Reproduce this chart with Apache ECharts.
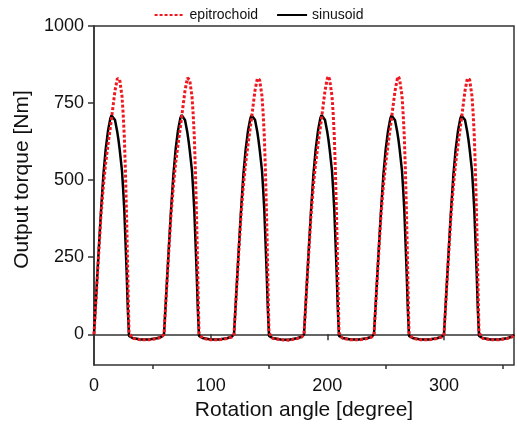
<!DOCTYPE html>
<html>
<head>
<meta charset="utf-8">
<script src="https://cdn.jsdelivr.net/npm/echarts@6/dist/echarts.min.js"></script>
<style>
  html, body { margin: 0; padding: 0; background: #fff; }
  #torqueChart { width: 517px; height: 426px; }
</style>
</head>
<body>
<div id="torqueChart"></div>
<script>
// rotation angle [degree], shared by both curves
var angles = [
  0, 2, 4, 6, 8, 10, 12, 14, 15, 16, 18, 20, 21, 22, 24, 25, 26, 27, 28, 29, 30, 33, 40, 47, 54, 58, 59,
  60, 62, 64, 66, 68, 70, 72, 74, 75, 76, 78, 80, 81, 82, 84, 85, 86, 87, 88, 89, 90, 93, 100, 107, 114, 118, 119,
  120, 122, 124, 126, 128, 130, 132, 134, 135, 136, 138, 140, 141, 142, 144, 145, 146, 147, 148, 149, 150, 153, 160, 167, 174, 178, 179,
  180, 182, 184, 186, 188, 190, 192, 194, 195, 196, 198, 200, 201, 202, 204, 205, 206, 207, 208, 209, 210, 213, 220, 227, 234, 238, 239,
  240, 242, 244, 246, 248, 250, 252, 254, 255, 256, 258, 260, 261, 262, 264, 265, 266, 267, 268, 269, 270, 273, 280, 287, 294, 298, 299,
  300, 302, 304, 306, 308, 310, 312, 314, 315, 316, 318, 320, 321, 322, 324, 325, 326, 327, 328, 329, 330, 333, 340, 347, 354, 358, 359,
  360
];

// output torque [Nm], epitrochoid profile (red dotted)
var epitrochoid = [
  0, 130, 260, 385, 480, 555, 615, 670, 700, 730, 790, 830, 836, 826, 772, 715, 640, 520, 370, 185, 5, -13, -18, -18, -14, -9, -4,
  0, 130, 262, 386, 480, 556, 615, 670, 701, 731, 790, 831, 837, 826, 771, 714, 640, 518, 368, 184, 4, -13, -18, -18, -14, -9, -4,
  0, 131, 261, 385, 481, 555, 616, 671, 700, 730, 791, 830, 836, 825, 772, 715, 641, 520, 370, 186, 5, -13, -18, -19, -14, -9, -4,
  0, 130, 260, 384, 480, 555, 615, 670, 700, 729, 790, 830, 837, 826, 772, 716, 640, 519, 369, 185, 5, -13, -18, -18, -14, -9, -4,
  0, 130, 261, 385, 479, 554, 614, 670, 699, 730, 789, 829, 836, 826, 773, 715, 639, 520, 370, 185, 5, -13, -18, -18, -14, -9, -4,
  0, 131, 260, 385, 480, 555, 615, 670, 700, 730, 790, 830, 836, 826, 772, 715, 640, 520, 370, 185, 5, -13, -18, -18, -14, -9, -4,
  -2
];

// output torque [Nm], sinusoid profile (black solid)
var sinusoid = [
  0, 135, 270, 400, 515, 600, 660, 700, 710, 712, 695, 655, 630, 600, 530, 470, 400, 300, 200, 80, -5, -12, -17, -17, -13, -8, -4,
  0, 136, 271, 401, 515, 601, 661, 701, 711, 713, 695, 655, 629, 599, 530, 469, 399, 300, 199, 80, -5, -12, -17, -17, -13, -8, -4,
  0, 135, 270, 400, 516, 600, 660, 700, 710, 712, 696, 656, 630, 600, 531, 470, 400, 301, 200, 81, -5, -12, -17, -18, -13, -8, -4,
  0, 135, 269, 399, 515, 600, 660, 701, 711, 712, 695, 655, 630, 600, 530, 470, 400, 300, 200, 80, -5, -12, -17, -17, -13, -8, -4,
  0, 135, 270, 400, 515, 599, 659, 700, 710, 711, 694, 655, 630, 600, 530, 470, 401, 300, 200, 80, -5, -12, -17, -17, -13, -8, -4,
  0, 135, 270, 400, 515, 600, 660, 700, 710, 712, 695, 655, 630, 600, 530, 470, 400, 300, 200, 80, -5, -12, -17, -17, -13, -8, -4,
  -2
];

var xLabelValues = [0, 100, 200, 300];
var xMinorTicks = [50, 150, 250, 350];
var yLabelValues = [0, 250, 500, 750, 1000];

function toPairs(xs, ys) {
  var out = [];
  for (var i = 0; i < xs.length; i++) {
    out.push([xs[i], ys[i]]);
  }
  return out;
}

var chart = echarts.init(document.getElementById('torqueChart'));

var axisColor = '#333';
var fontFam = '"Liberation Sans", Arial, sans-serif';
//纯数字，不要千分位
var plainNum = function (v) { return String(v); };

var option = {
  animation: false,
  textStyle: { fontFamily: fontFam },
  legend: {
    top: 3,
    left: 'center',
    itemWidth: 30,
    itemHeight: 10,
    itemGap: 18,
    itemStyle: { opacity: 0 },
    textStyle: { fontSize: 14, color: '#111', fontFamily: fontFam },
    data: ['epitrochoid', 'sinusoid']
  },
  grid: {
    left: 94,
    right: 3,
    top: 26,
    bottom: 60,
    show: true,
    borderColor: axisColor,
    borderWidth: 1.5,
    backgroundColor: 'transparent'
  },
  xAxis: [
    {
      type: 'value',
      min: 0,
      max: 360,
      name: 'Rotation angle [degree]',
      nameLocation: 'middle',
      nameGap: 33,
      nameTextStyle: { fontSize: 21, color: '#111', fontFamily: fontFam },
      axisLine: { show: true, lineStyle: { color: axisColor, width: 1.5 } },
      axisTick: { show: true, length: 6, customValues: xLabelValues, lineStyle: { color: axisColor, width: 1.5 } },
      axisLabel: { customValues: xLabelValues, formatter: plainNum, fontSize: 18, color: '#111', margin: 12, fontFamily: fontFam },
      splitLine: { show: false }
    },
    {
      type: 'value',
      min: 0,
      max: 360,
      position: 'bottom',
      axisLine: { show: false },
      axisTick: { show: true, length: 4, customValues: xMinorTicks, lineStyle: { color: axisColor, width: 1.5 } },
      axisLabel: { show: false },
      splitLine: { show: false }
    }
  ],
  yAxis: {
    type: 'value',
    min: -100,
    max: 1000,
    name: 'Output torque [Nm]',
    nameLocation: 'middle',
    nameGap: 57,
    nameTextStyle: { fontSize: 21, color: '#111', fontFamily: fontFam, padding: [0, 0, 0, 32] },
    axisLine: { show: true, lineStyle: { color: axisColor, width: 1.5 } },
    axisTick: { show: true, length: 6, customValues: yLabelValues, lineStyle: { color: axisColor, width: 1.5 } },
    axisLabel: { customValues: yLabelValues, formatter: plainNum, fontSize: 18, color: '#111', margin: 10, fontFamily: fontFam },
    splitLine: { show: false }
  },
  series: [
    {
      name: 'sinusoid',
      type: 'line',
      symbol: 'none',
      z: 2,
      lineStyle: { color: '#000', width: 2.5, type: 'solid' },
      itemStyle: { color: '#000' },
      data: toPairs(angles, sinusoid)
    },
    {
      name: 'epitrochoid',
      type: 'line',
      symbol: 'none',
      z: 3,
      lineStyle: { color: '#f01820', width: 3, type: [3, 2] },
      itemStyle: { color: '#f01820' },
      data: toPairs(angles, epitrochoid)
    }
  ]
};

chart.setOption(option);
</script>
</body>
</html>
